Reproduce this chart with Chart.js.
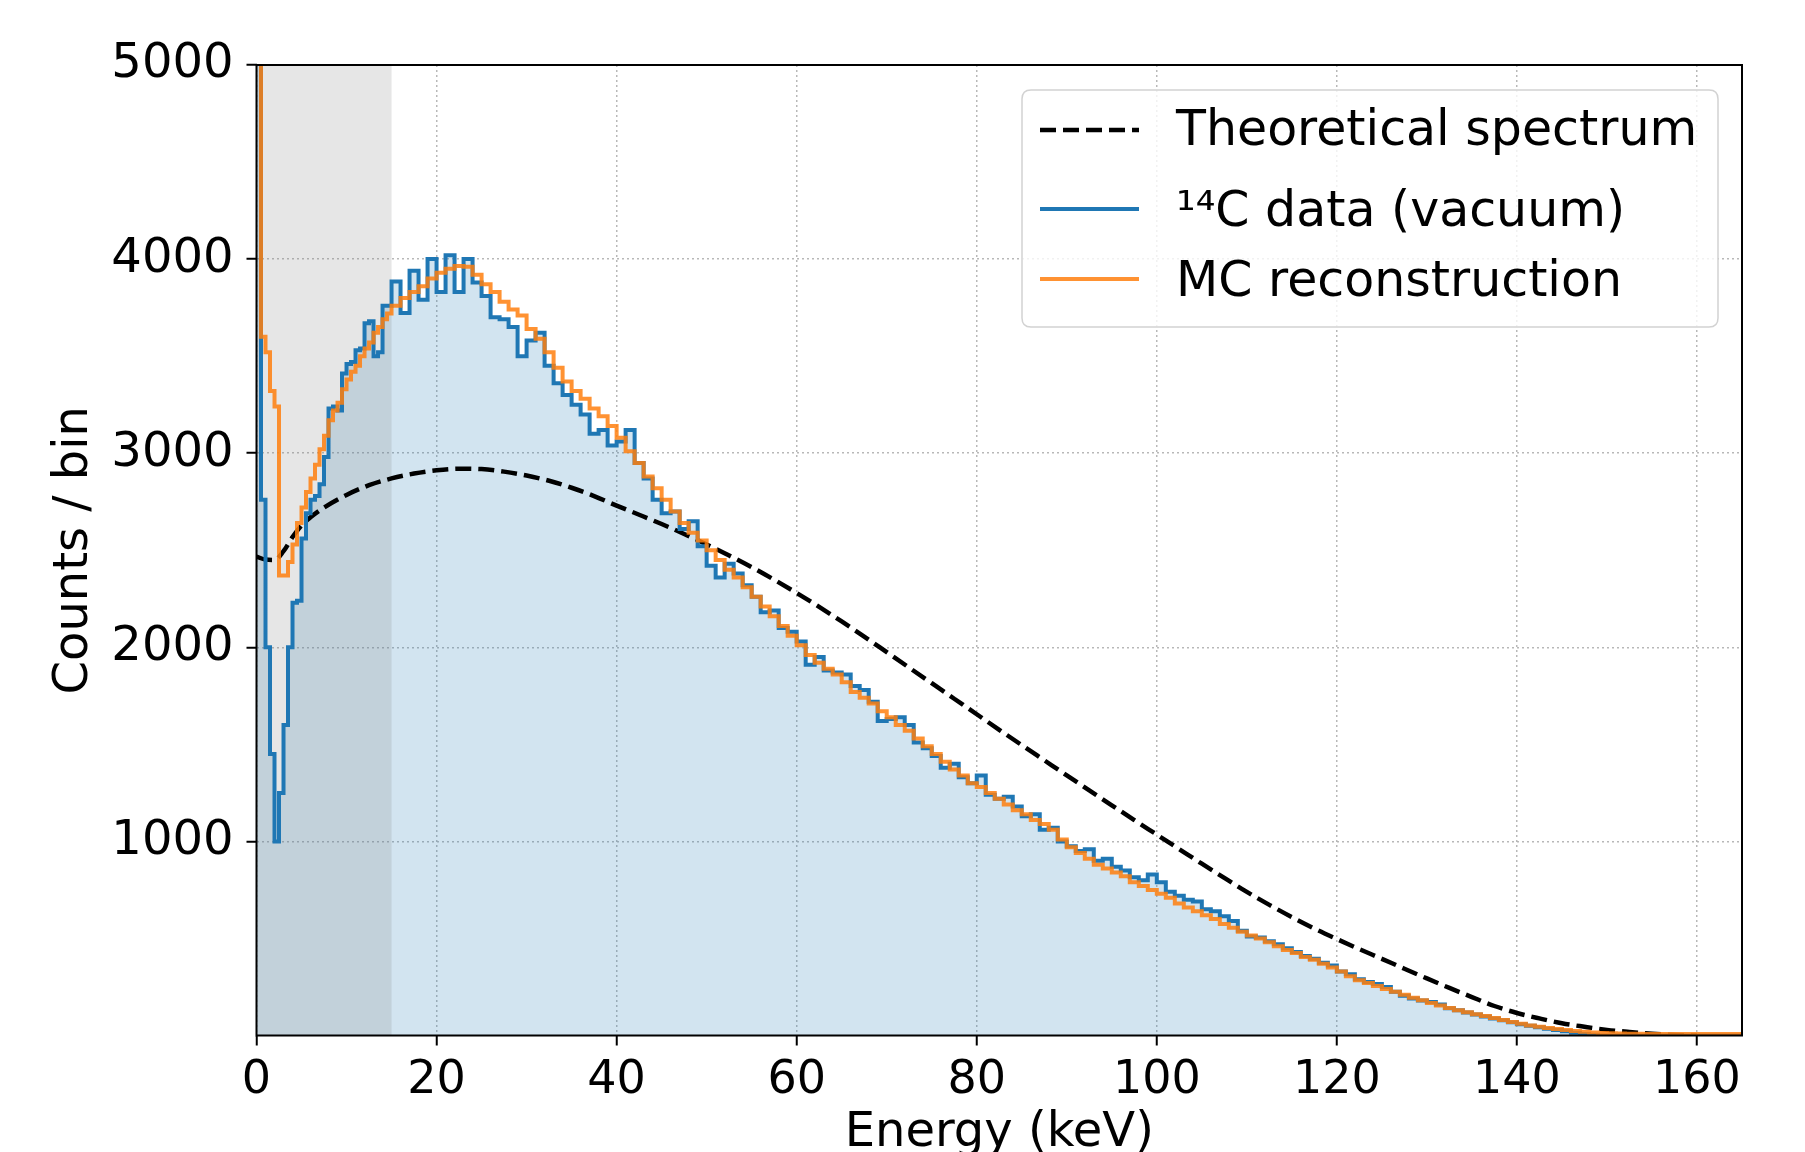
<!DOCTYPE html>
<html>
<head>
<meta charset="utf-8">
<title>14C spectrum</title>
<script src="https://cdn.jsdelivr.net/npm/chart.js@4.4.1/dist/chart.umd.min.js"></script>
<style>
    html, body { margin: 0; padding: 0; background: #fff; }
    #wrap { width: 1805px; height: 1152px; position: relative; }
</style>
</head>
<body>
<div id="wrap"><canvas id="spectrumChart"></canvas></div>
<script>
'use strict';

// bin left edges (keV), last entry closes the last bin
var binEdges = [
    0, 0.5, 1, 1.5, 2, 2.5, 3, 3.5, 4, 4.5, 5, 5.5, 6, 6.5, 7, 7.5, 8, 8.5, 9, 9.5,
    10, 10.5, 11, 11.5, 12, 12.5, 13, 13.5, 14, 14.5,
    15, 16, 17, 18, 19, 20, 21, 22, 23, 24, 25, 26, 27, 28, 29, 30, 31, 32, 33, 34,
    35, 36, 37, 38, 39, 40, 41, 42, 43, 44, 45, 46, 47, 48, 49, 50, 51, 52, 53, 54,
    55, 56, 57, 58, 59, 60, 61, 62, 63, 64, 65, 66, 67, 68, 69, 70, 71, 72, 73, 74,
    75, 76, 77, 78, 79, 80, 81, 82, 83, 84, 85, 86, 87, 88, 89, 90, 91, 92, 93, 94,
    95, 96, 97, 98, 99, 100, 101, 102, 103, 104, 105, 106, 107, 108, 109, 110, 111, 112, 113, 114,
    115, 116, 117, 118, 119, 120, 121, 122, 123, 124, 125, 126, 127, 128, 129, 130, 131, 132, 133, 134,
    135, 136, 137, 138, 139, 140, 141, 142, 143, 144, 145, 146, 147, 148, 149, 150, 151, 152, 153, 154,
    155, 156, 157, 158, 159, 160, 161, 162, 163, 164, 165
];

// 14C data (vacuum)
var dataCounts = [
    8000, 2760, 2000, 1450, 1000, 1250, 1600, 2000, 2230, 2240, 2560, 2690, 2760, 2780, 2840, 2980, 3230, 3240, 3220, 3410,
    3460, 3470, 3530, 3540, 3670, 3680, 3500, 3520, 3760, 3760,
    3885, 3722, 3940, 3790, 4000, 3830, 4020, 3830, 4000, 3880, 3810, 3700, 3690, 3650, 3500, 3580, 3620, 3450, 3360, 3300,
    3250, 3200, 3100, 3120, 3040, 3060, 3120, 2950, 2870, 2760, 2690, 2700, 2610, 2650, 2520, 2420, 2360, 2430, 2380, 2320,
    2260, 2180, 2190, 2100, 2080, 2030, 1910, 1950, 1880, 1870, 1860, 1800, 1780, 1720, 1620, 1630, 1640, 1600, 1510, 1480,
    1440, 1380, 1400, 1330, 1300, 1340, 1240, 1220, 1230, 1180, 1130, 1140, 1060, 1070, 1000, 975, 950, 960, 900, 910,
    870, 850, 815, 800, 830, 790, 740, 720, 700, 690, 650, 640, 615, 590, 540, 510, 505, 485, 470, 450,
    430, 410, 395, 375, 360, 330, 315, 290, 275, 265, 250, 225, 205, 190, 180, 172, 160, 140, 130, 118,
    108, 98, 88, 78, 68, 58, 50, 42, 35, 28, 22, 14, 8, 4, 0, 0, 0, 0, 0, 0,
    0, 0, 0, 0, 0, 0, 0, 0, 0, 0
];

// MC reconstruction
var mcCounts = [
    7000, 3600, 3520, 3320, 3240, 2370, 2370, 2440, 2530, 2640, 2720, 2800, 2870, 2940, 3020, 3090, 3170, 3220, 3260, 3330,
    3380, 3420, 3450, 3500, 3540, 3570, 3620, 3650, 3690, 3720,
    3760, 3800, 3830, 3860, 3900, 3930, 3950, 3965, 3960, 3920, 3870, 3830, 3780, 3740, 3710, 3640, 3590, 3520, 3440, 3370,
    3320, 3280, 3230, 3190, 3140, 3080, 3010, 2950, 2880, 2820, 2760, 2700, 2640, 2590, 2550, 2500, 2450, 2400, 2360, 2310,
    2260, 2210, 2160, 2110, 2060, 2010, 1960, 1920, 1890, 1860, 1820, 1770, 1740, 1710, 1670, 1640, 1600, 1570, 1530, 1490,
    1450, 1410, 1370, 1340, 1300, 1280, 1250, 1220, 1190, 1160, 1140, 1110, 1090, 1060, 1010, 970, 940, 910, 880, 860,
    840, 820, 790, 770, 750, 730, 710, 680, 660, 640, 620, 600, 575, 555, 535, 515, 500, 480, 460, 440,
    425, 405, 390, 370, 350, 330, 305, 285, 270, 255, 240, 225, 210, 195, 182, 168, 155, 142, 130, 120,
    110, 100, 90, 80, 70, 60, 52, 45, 38, 33, 28, 23, 19, 16, 13, 11, 10, 9, 9, 8,
    8, 8, 8, 8, 8, 8, 8, 8, 8, 8
];

// theoretical spectrum
var theoryEnergy = [
    0, 1, 2, 3, 4, 5, 6, 7.5, 10, 12.5, 15, 17.5, 20, 22.5, 25, 27.5, 30, 32.5, 35, 37.5,
    40, 42.5, 45, 47.5, 50, 52.5, 55, 57.5, 60, 62.5, 65, 67.5, 70, 72.5, 75, 77.5, 80, 82.5, 85, 87.5,
    90, 92.5, 95, 97.5, 100, 102.5, 105, 107.5, 110, 112.5, 115, 117.5, 120, 122.5, 125, 127.5, 130, 132.5, 135, 137.5,
    140, 142.5, 145, 147.5, 150, 152.5, 155, 157.5, 160
];
var theoryCounts = [
    2467, 2452, 2450, 2495, 2568, 2628, 2670, 2720, 2785, 2835, 2870, 2895, 2912, 2920, 2918, 2905, 2885, 2858, 2822, 2779,
    2730, 2683, 2635, 2584, 2530, 2473, 2413, 2348, 2280, 2208, 2133, 2055, 1975, 1895, 1815, 1735, 1655, 1575, 1496, 1418,
    1340, 1263, 1186, 1110, 1035, 960, 885, 812, 740, 673, 610, 551, 497, 445, 395, 344, 294, 245, 198, 152,
    116, 88, 63, 45, 29, 18, 9, 3, 0
];

var xTicks = [0, 20, 40, 60, 80, 100, 120, 140, 160];
var yTicks = [1000, 2000, 3000, 4000, 5000];
var shadeRange = [0, 15];
var legendLabels = ['Theoretical spectrum', '\u00B9\u2074C data (vacuum)', 'MC reconstruction'];

var FONT = 'DejaVu Sans';

function histPoints(edges, counts) {
    var pts = counts.map(function (c, i) { return { x: edges[i], y: c }; });
    pts.push({ x: edges[counts.length], y: counts[counts.length - 1] });
    return pts;
}

function pairPoints(xs, ys) {
    return ys.map(function (v, i) { return { x: xs[i], y: v }; });
}

var overlayPlugin = {
    id: 'overlay',
    beforeDatasetsDraw: function (chart) {
        var ctx = chart.ctx, area = chart.chartArea, xs = chart.scales.x;
        var x0 = xs.getPixelForValue(shadeRange[0]);
        var x1 = xs.getPixelForValue(shadeRange[1]);
        ctx.save();
        ctx.fillStyle = 'rgba(128, 128, 128, 0.2)';
        ctx.fillRect(x0, area.top, x1 - x0, area.bottom - area.top);
        ctx.restore();
    },
    afterDatasetsDraw: function (chart) {
        var ctx = chart.ctx, area = chart.chartArea;
        ctx.save();
        // spines
        ctx.strokeStyle = '#000';
        ctx.lineWidth = 2;
        ctx.strokeRect(area.left, area.top, area.right - area.left, area.bottom - area.top);

        // legend box
        var bx = 1022, by = 90, bw = 696, bh = 237, r = 9;
        ctx.beginPath();
        ctx.moveTo(bx + r, by);
        ctx.lineTo(bx + bw - r, by);
        ctx.quadraticCurveTo(bx + bw, by, bx + bw, by + r);
        ctx.lineTo(bx + bw, by + bh - r);
        ctx.quadraticCurveTo(bx + bw, by + bh, bx + bw - r, by + bh);
        ctx.lineTo(bx + r, by + bh);
        ctx.quadraticCurveTo(bx, by + bh, bx, by + bh - r);
        ctx.lineTo(bx, by + r);
        ctx.quadraticCurveTo(bx, by, bx + r, by);
        ctx.closePath();
        ctx.fillStyle = 'rgba(255, 255, 255, 0.8)';
        ctx.fill();
        ctx.strokeStyle = '#d2d2d2';
        ctx.lineWidth = 1.5;
        ctx.stroke();

        var rowsLine = [130, 209, 279];
        var rowsText = [132, 213, 283];
        var sets = chart.data.datasets;
        ctx.font = '49px "' + FONT + '"';
        ctx.textBaseline = 'middle';
        ctx.textAlign = 'left';
        for (var i = 0; i < sets.length; i++) {
            var ds = sets[i];
            ctx.beginPath();
            ctx.setLineDash(ds.borderDash || []);
            ctx.strokeStyle = ds.borderColor;
            ctx.lineWidth = ds.borderWidth;
            ctx.moveTo(1040, rowsLine[i]);
            ctx.lineTo(1139, rowsLine[i]);
            ctx.stroke();
            ctx.setLineDash([]);
            ctx.fillStyle = '#000';
            ctx.fillText(ds.label, 1176, rowsText[i]);
        }
        ctx.restore();
    }
};

var ctxChart = document.getElementById('spectrumChart');

var spectrumChart = new Chart(ctxChart, {
    type: 'line',
    data: {
        datasets: [
            {
                label: legendLabels[0],
                data: pairPoints(theoryEnergy, theoryCounts),
                borderColor: '#000000',
                borderWidth: 4.5,
                borderDash: [16, 7],
                cubicInterpolationMode: 'monotone',
                pointRadius: 0,
                fill: false,
                order: 3
            },
            {
                label: legendLabels[1],
                data: histPoints(binEdges, dataCounts),
                borderColor: '#1f77b4',
                borderWidth: 4,
                backgroundColor: 'rgba(31, 119, 180, 0.2)',
                stepped: true,
                pointRadius: 0,
                fill: 'origin',
                order: 2
            },
            {
                label: legendLabels[2],
                data: histPoints(binEdges, mcCounts),
                borderColor: 'rgba(255, 127, 14, 0.85)',
                borderWidth: 4,
                stepped: true,
                pointRadius: 0,
                fill: false,
                order: 1
            }
        ]
    },
    options: {
        responsive: true,
        maintainAspectRatio: false,
        animation: false,
        devicePixelRatio: 1,
        layout: { padding: { top: 65, right: 63, left: 0, bottom: 0 } },
        plugins: {
            legend: { display: false },
            tooltip: { enabled: false },
            filler: { drawTime: 'beforeDatasetsDraw' }
        },
        scales: {
            x: {
                type: 'linear',
                min: 0,
                max: 165,
                afterBuildTicks: function (scale) {
                    scale.ticks = xTicks.map(function (v) { return { value: v }; });
                },
                afterFit: function (scale) { scale.height = 116.5; },
                ticks: {
                    color: '#000',
                    font: { family: FONT, size: 46 },
                    padding: 8,
                    maxRotation: 0,
                    autoSkip: false,
                    callback: function (v) { return String(v); }
                },
                grid: {
                    color: 'rgba(176, 176, 176, 0.9)',
                    lineWidth: 1.5,
                    tickLength: 10,
                    tickColor: '#000',
                    tickWidth: 2
                },
                border: { display: false, dash: [2, 3] },
                title: {
                    display: true,
                    text: 'Energy (keV)',
                    color: '#000',
                    font: { family: FONT, size: 48, lineHeight: 0.75 },
                    padding: { top: 0, bottom: 0 }
                }
            },
            y: {
                type: 'linear',
                min: 0,
                max: 5000,
                afterBuildTicks: function (scale) {
                    scale.ticks = yTicks.map(function (v) { return { value: v }; });
                },
                afterFit: function (scale) { scale.width = 256.5; },
                ticks: {
                    color: '#000',
                    font: { family: FONT, size: 48 },
                    padding: 13,
                    autoSkip: false,
                    callback: function (v) { return String(v); }
                },
                grid: {
                    color: 'rgba(176, 176, 176, 0.9)',
                    lineWidth: 1.5,
                    tickLength: 10,
                    tickColor: '#000',
                    tickWidth: 2
                },
                border: { display: false, dash: [2, 3] },
                title: {
                    display: true,
                    text: 'Counts / bin',
                    color: '#000',
                    font: { family: FONT, size: 48, lineHeight: 1.2 },
                    padding: { top: 46, bottom: 0 }
                }
            }
        }
    },
    plugins: [overlayPlugin]
});
</script>
</body>
</html>
